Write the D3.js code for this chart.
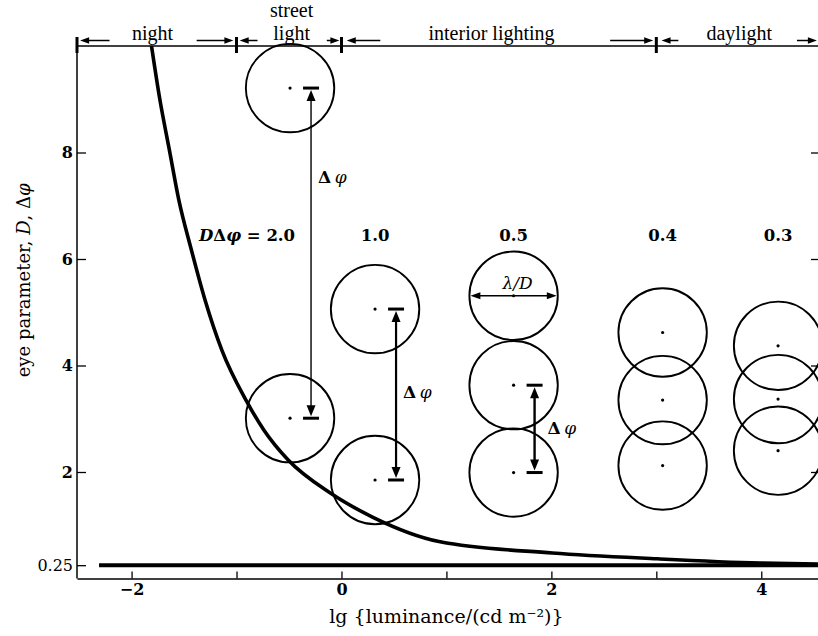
<!DOCTYPE html>
<html>
<head>
<meta charset="utf-8">
<script src="https://cdn.jsdelivr.net/npm/d3@7"></script>
<style>
  body { margin: 0; background: #fff; }
  svg { display: block; }
  .band { font-family: "Liberation Serif", serif; font-size: 20px; }
  .tick { font-family: "DejaVu Serif", serif; font-weight: bold; font-size: 16px; }
  .tick.light { font-weight: normal; }
  .axisLabel { font-family: "DejaVu Serif", serif; font-size: 19px; }
  .prod { font-family: "DejaVu Serif", serif; font-weight: bold; font-size: 16.5px; }
  .sym { font-family: "DejaVu Serif", serif; font-size: 17px; }
</style>
</head>
<body>
<svg id="chart" width="818" height="636"></svg>
<script>
// axis ticks
var lgTicks = [-2, 0, 2, 4];
var lgAllTicks = [-2, -1, 0, 1, 2, 3, 4];
var dTicks = [0.25, 2, 4, 6, 8];
var dTickLabels = ["0.25", "2", "4", "6", "8"];

// eye parameter D against lg luminance
var curveLg = [-1.81, -1.73, -1.64, -1.55, -1.43, -1.30, -1.14, -0.91, -0.74, -0.51, -0.11, 0.30, 0.94, 2.01, 3.01, 3.99, 4.55];
var curveD  = [10.0, 8.99, 8.05, 7.11, 6.17, 5.23, 4.29, 3.35, 2.79, 2.23, 1.61, 1.15, 0.69, 0.48, 0.37, 0.29, 0.27];

// lower limit line
var limitD = 0.25;
var limitFromLg = -2.31;

// lighting bands along the top
var bandNames = [["night"], ["street", "light"], ["interior lighting"], ["daylight"]];
var bandLabelLg = [-1.80, -0.475, 1.43, 3.79];
var bandEdgesLg = [-1, 0, 3];
var bandArrows = [[-2.21, -2.49], [-1.38, -1.03], [-0.80, -0.97], [-0.14, -0.02],
                  [0.37, 0.05], [2.56, 2.97], [3.21, 3.05], [4.34, 4.53]];

// airy disc columns
var products = ["2.0", "1.0", "0.5", "0.4", "0.3"];
var columnLg = [-0.49, 0.32, 1.64, 3.06, 4.16];
var columnCentres = [[9.21, 3.01], [5.06, 1.85], [5.31, 3.63, 1.99], [4.62, 3.35, 2.12], [4.37, 3.37, 2.40]];
var airyRadiusD = 0.83;
var productLabelD = 6.34;

// delta phi markers (first three columns)
var dphiEnds = [[9.21, 3.01], [5.06, 1.85], [3.63, 1.99]];
var dphiLabelD = [7.43, 3.39, 2.71];
var lambdaLabelD = 5.44;

var svg = d3.select("#chart");

var x = d3.scaleLinear().domain([-2.52, 4.55]).range([77, 819]);
var y = d3.scaleLinear().domain([0, 10]).range([578.5, 46]);

var rPx = y(0) - y(airyRadiusD);

svg.append("defs").append("clipPath").attr("id", "plot")
  .append("rect")
  .attr("x", x(-2.52)).attr("y", y(10))
  .attr("width", x(4.55) - x(-2.52)).attr("height", y(0) - y(10));

function head(g, tx, ty, dx, dy, len, hw) {
  var px = -dy, py = dx;
  g.append("path")
    .attr("d", "M" + tx + "," + ty +
      "L" + (tx - dx * len + px * hw) + "," + (ty - dy * len + py * hw) +
      "L" + (tx - dx * len - px * hw) + "," + (ty - dy * len - py * hw) + "Z")
    .attr("fill", "#000");
}

// frame
svg.append("line").attr("x1", x(-2.52)).attr("x2", 818).attr("y1", y(10)).attr("y2", y(10))
  .attr("stroke", "#000").attr("stroke-width", 1.5);
svg.append("line").attr("x1", x(-2.52)).attr("x2", x(-2.52)).attr("y1", y(10)).attr("y2", y(0))
  .attr("stroke", "#000").attr("stroke-width", 1.5);
svg.append("line").attr("x1", x(4.55)).attr("x2", x(4.55)).attr("y1", y(10)).attr("y2", y(0))
  .attr("stroke", "#000").attr("stroke-width", 1.5);

// bottom axis
var xAxis = svg.append("g")
  .attr("transform", "translate(0," + y(0) + ")")
  .call(d3.axisBottom(x).tickValues(lgAllTicks).tickSizeInner(-7).tickSizeOuter(0)
    .tickFormat(function(d) { return lgTicks.indexOf(d) >= 0 ? String(d).replace("-", "\u2212") : ""; }));
xAxis.select(".domain").attr("stroke-width", 1.5);
xAxis.selectAll("line").attr("stroke-width", 1.3);
xAxis.selectAll("text").attr("class", "tick").attr("fill", "#000").attr("y", 5).attr("dy", "0.71em");

// left axis
var yAxis = svg.append("g")
  .attr("transform", "translate(" + x(-2.52) + ",0)")
  .call(d3.axisLeft(y).tickValues(dTicks).tickSizeInner(-9).tickSizeOuter(0)
    .tickFormat(function(d, i) { return dTickLabels[i]; }));
yAxis.select(".domain").remove();
yAxis.selectAll("line").attr("stroke-width", 1.3);
yAxis.selectAll("text").attr("class", function(d) { return d < 1 ? "tick light" : "tick"; })
  .attr("fill", "#000").attr("x", -4);

// right axis ticks
var rAxis = svg.append("g")
  .attr("transform", "translate(" + x(4.55) + ",0)")
  .call(d3.axisRight(y).tickValues(dTicks.slice(1)).tickSizeInner(-8).tickSizeOuter(0).tickFormat(""));
rAxis.select(".domain").remove();
rAxis.selectAll("line").attr("stroke-width", 1.3);

// axis titles
svg.append("text").attr("class", "axisLabel")
  .attr("x", x(1)).attr("y", 623).attr("text-anchor", "middle")
  .text("lg {luminance/(cd m\u207B\u00B2)}");

var yt = svg.append("text").attr("class", "axisLabel")
  .attr("transform", "translate(30," + y(5.6) + ") rotate(-90)")
  .attr("text-anchor", "middle").style("font-size", "18px");
yt.append("tspan").text("eye parameter, ");
yt.append("tspan").style("font-style", "italic").text("D");
yt.append("tspan").text(", \u0394");
yt.append("tspan").style("font-style", "italic").text("\u03C6");

// bands along the top
var topY = y(10);
var bands = svg.append("g");
bandEdgesLg.concat([-2.52]).forEach(function(v) {
  bands.append("line").attr("x1", x(v)).attr("x2", x(v)).attr("y1", topY - 9).attr("y2", topY + 7)
    .attr("stroke", "#000").attr("stroke-width", 3);
});
bandArrows.forEach(function(a) {
  var ay = topY - 5.5;
  var dir = a[1] > a[0] ? 1 : -1;
  bands.append("line").attr("x1", x(a[0])).attr("x2", x(a[1]) - dir * 6).attr("y1", ay).attr("y2", ay)
    .attr("stroke", "#000").attr("stroke-width", 1.5);
  head(bands, x(a[1]), ay, dir, 0, 9, 3.2);
});
bandNames.forEach(function(lines, i) {
  lines.forEach(function(s, j) {
    bands.append("text").attr("class", "band")
      .attr("x", x(bandLabelLg[i]))
      .attr("y", topY - 6 - (lines.length - 1 - j) * 23)
      .attr("text-anchor", "middle")
      .text(s);
  });
});

// curve and limit line
var plot = svg.append("g").attr("clip-path", "url(#plot)");
var curvePts = curveLg.map(function(v, i) { return [v, curveD[i]]; });
plot.append("path")
  .attr("d", d3.line().x(function(d) { return x(d[0]); }).y(function(d) { return y(d[1]); })
    .curve(d3.curveMonotoneX)(curvePts))
  .attr("fill", "none").attr("stroke", "#000").attr("stroke-width", 3.6);
plot.append("line")
  .attr("x1", x(limitFromLg)).attr("x2", x(4.55)).attr("y1", y(limitD)).attr("y2", y(limitD))
  .attr("stroke", "#000").attr("stroke-width", 4);

// airy discs
var discs = svg.append("g");
columnCentres.forEach(function(cs, i) {
  cs.forEach(function(c) {
    discs.append("circle").attr("cx", x(columnLg[i])).attr("cy", y(c)).attr("r", rPx)
      .attr("fill", "none").attr("stroke", "#000").attr("stroke-width", 1.9);
    discs.append("circle").attr("cx", x(columnLg[i])).attr("cy", y(c)).attr("r", 1.6).attr("fill", "#000");
  });
});

// product labels
products.forEach(function(p, i) {
  var t = discs.append("text").attr("class", "prod")
    .attr("x", x(columnLg[i]) + (i == 0 ? -43 : 0)).attr("y", y(productLabelD))
    .attr("text-anchor", "middle");
  if (i == 0) {
    t.append("tspan").style("font-style", "italic").text("D");
    t.append("tspan").text("\u0394");
    t.append("tspan").style("font-style", "italic").text("\u03C6");
    t.append("tspan").text(" = " + p);
  } else {
    t.text(p);
  }
});

// delta phi separations
var offs = 0.2;
var shaftW = [1.4, 2.2, 2.4];
dphiEnds.forEach(function(e, i) {
  var bx = x(columnLg[i] + offs);
  var y1 = y(e[0]), y2 = y(e[1]);
  [y1, y2].forEach(function(yy) {
    discs.append("line").attr("x1", bx - 8).attr("x2", bx + 8).attr("y1", yy).attr("y2", yy)
      .attr("stroke", "#000").attr("stroke-width", 3);
  });
  discs.append("line").attr("x1", bx).attr("x2", bx).attr("y1", y1 + 8).attr("y2", y2 - 8)
    .attr("stroke", "#000").attr("stroke-width", shaftW[i]);
  head(discs, bx, y1 + 2, 0, -1, 11, 4.5);
  head(discs, bx, y2 - 2, 0, 1, 11, 4.5);
  var lt = discs.append("text").attr("class", "sym")
    .attr("x", bx + (i == 2 ? 13 : 7)).attr("y", y(dphiLabelD[i]));
  lt.append("tspan").style("font-weight", "bold").text("\u0394");
  lt.append("tspan").style("font-style", "italic").text("\u2009\u03C6");
});

// lambda / D width marker on the 0.5 column
var lx = x(columnLg[2]), ly = y(columnCentres[2][0]);
discs.append("line").attr("x1", lx - rPx + 7).attr("x2", lx + rPx - 7).attr("y1", ly).attr("y2", ly)
  .attr("stroke", "#000").attr("stroke-width", 1.5);
head(discs, lx - rPx + 1, ly, -1, 0, 10, 3.6);
head(discs, lx + rPx - 1, ly, 1, 0, 10, 3.6);
discs.append("text").attr("class", "sym").style("font-style", "italic")
  .attr("x", lx + 4).attr("y", y(lambdaLabelD)).attr("text-anchor", "middle")
  .text("\u03BB/D");
</script>
</body>
</html>
